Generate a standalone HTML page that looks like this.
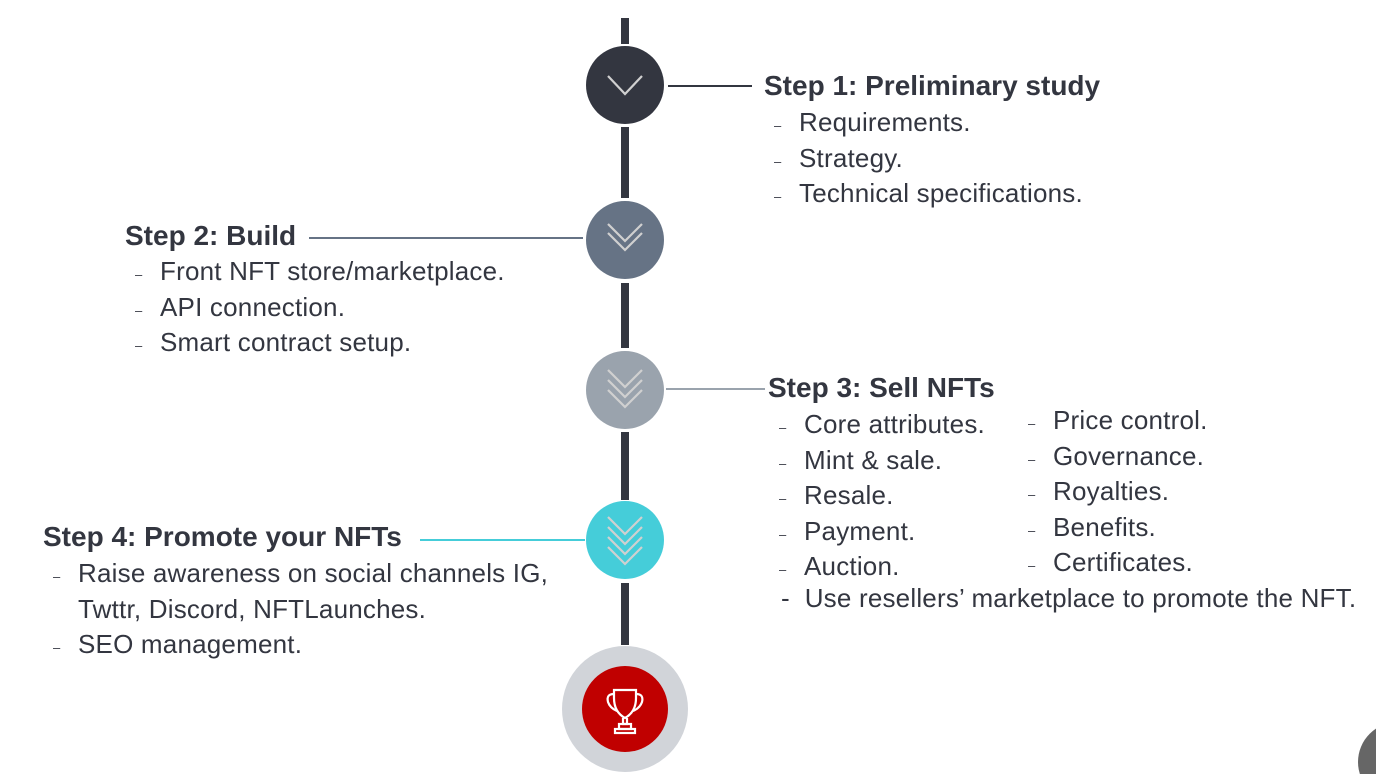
<!DOCTYPE html>
<html style="overflow:hidden;height:774px"><head><style>
body{margin:0;width:1376px;height:774px;background:#fff;position:relative;overflow:hidden;font-family:"Liberation Sans",sans-serif;color:#333640}
.a{position:absolute}
.bar{position:absolute;left:621px;width:8px;background:#333640}
.c{position:absolute;width:78px;height:78px;border-radius:50%;left:586px}
.h{position:absolute;font-weight:bold;font-size:28px;white-space:nowrap;line-height:32px}
.t{position:absolute;font-size:26px;white-space:nowrap;letter-spacing:0.2px}
.t div{height:35.5px;line-height:35.5px;position:relative;padding-left:25px}
.t b{font-weight:normal;position:absolute;left:0;top:3px;font-size:13px}
.ln{position:absolute;height:2px}
</style></head><body>
<div class="bar" style="top:18px;height:26px"></div>
<div class="bar" style="top:127px;height:71px"></div>
<div class="bar" style="top:283px;height:65px"></div>
<div class="bar" style="top:432px;height:68px"></div>
<div class="bar" style="top:583px;height:62px"></div>

<div class="c" style="top:46px;background:#333640"></div>
<div class="c" style="top:201px;background:#667385"></div>
<div class="c" style="top:351px;background:#9aa3ad"></div>
<div class="c" style="top:501px;background:#45cdd9"></div>
<div class="a" style="left:562px;top:646px;width:126px;height:126px;border-radius:50%;background:#d1d4d9"></div>
<div class="a" style="left:582px;top:666px;width:86px;height:86px;border-radius:50%;background:#c00000"></div>
<div class="a" style="left:1358px;top:722px;width:80px;height:80px;border-radius:50%;background:#666"></div>

<svg class="a" style="left:0;top:0" width="1376" height="774" fill="none" stroke="#d0d0d0" stroke-width="2.2">
<polyline points="608,76 625,94 642,76"/>
<polyline points="608,224 625,241 642,224"/><polyline points="608,233 625,250 642,233"/>
<polyline points="608,370 625,387 642,370"/><polyline points="608,380 625,397 642,380"/><polyline points="608,390 625,407 642,390"/>
<polyline points="608,517 625,534 642,517"/><polyline points="608,527 625,544 642,527"/><polyline points="608,537 625,554 642,537"/><polyline points="608,547 625,564 642,547"/>
<g stroke="#fff" stroke-width="2.2">
<path d="M614,690 h22 v8 q0,14 -11,20 q-11,-6 -11,-20 z"/>
<path d="M614,694 q-8,0 -6,8 q2,6 9,9"/><path d="M636,694 q8,0 6,8 q-2,6 -9,9"/>
<path d="M623,718 v6 h4 v-6"/><rect x="619" y="724" width="12" height="5"/><rect x="615" y="729" width="20" height="4"/>
</g>
</svg>

<div class="ln" style="left:668px;top:85px;width:84px;background:#333640"></div>
<div class="ln" style="left:309px;top:237px;width:274px;background:#667385"></div>
<div class="ln" style="left:666px;top:388px;width:99px;background:#9aa3ad"></div>
<div class="ln" style="left:420px;top:539px;width:165px;background:#45cdd9"></div>

<div class="h" style="left:764px;top:70px">Step 1: Preliminary study</div>
<div class="t" style="left:774px;top:105px"><div><b>–</b>Requirements.</div><div><b>–</b>Strategy.</div><div><b>–</b>Technical specifications.</div></div>

<div class="h" style="left:125px;top:220px">Step 2: Build</div>
<div class="t" style="left:135px;top:254px"><div><b>–</b>Front NFT store/marketplace.</div><div><b>–</b>API connection.</div><div><b>–</b>Smart contract setup.</div></div>

<div class="h" style="left:768px;top:372px">Step 3: Sell NFTs</div>
<div class="t" style="left:779px;top:407px"><div><b>–</b>Core attributes.</div><div><b>–</b>Mint &amp; sale.</div><div><b>–</b>Resale.</div><div><b>–</b>Payment.</div><div><b>–</b>Auction.</div></div>
<div class="t" style="left:1028px;top:403px"><div><b>–</b>Price control.</div><div><b>–</b>Governance.</div><div><b>–</b>Royalties.</div><div><b>–</b>Benefits.</div><div><b>–</b>Certificates.</div></div>
<div class="t" style="left:781px;top:581px"><div style="padding-left:0">-&nbsp; Use resellers’ marketplace to promote the NFT.</div></div>

<div class="h" style="left:43px;top:521px">Step 4: Promote your NFTs</div>
<div class="t" style="left:53px;top:556px"><div><b>–</b>Raise awareness on social channels IG,</div><div>Twttr, Discord, NFTLaunches.</div><div><b>–</b>SEO management.</div></div>
</body></html>
